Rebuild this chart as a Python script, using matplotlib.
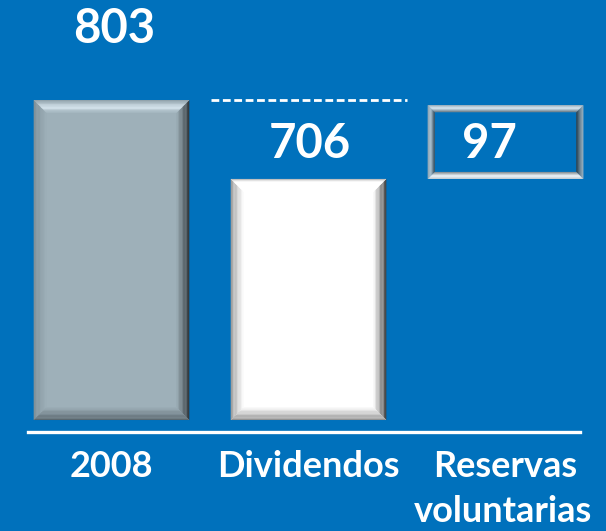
import matplotlib
matplotlib.use('Agg')
import matplotlib.pyplot as plt
from matplotlib.patches import Polygon
from matplotlib.colors import to_rgb
import numpy as np

# ---- data ----
categories = ['2008', 'Dividendos', 'Reservas\nvoluntarias']
label_values = [803, 706, 97]
bar_bottoms = [0, 0, 605]     # drawn extents
bar_tops = [803, 605, 790]
reference_level = 803

BG = '#0071BC'
plt.rcParams['font.family'] = ['Lato', 'DejaVu Sans']

fig = plt.figure(figsize=(6.06, 5.31), dpi=100, facecolor=BG)
ax = fig.add_axes([0, 0, 1, 1])
ax.set_facecolor(BG)
XL, XR, YB, YT = -0.566, 2.510, -278.5, 1054
ax.set_xlim(XL, XR)
ax.set_ylim(YB, YT)
ax.axis('off')

PX_X = 1.0 / (606 / (XR - XL))   # data units per pixel (x)
PX_Y = 1.0 / (531 / (YT - YB))   # data units per pixel (y)

x = np.arange(len(categories))
heights = [t - b for t, b in zip(bar_tops, bar_bottoms)]
fills = ['#9EB0B9', '#FFFFFF', BG]
bars = ax.bar(x, heights, bottom=bar_bottoms, width=0.79, color=fills,
              edgecolor='none', zorder=2)


def interp(stops, t):
    for (p0, c0), (p1, c1) in zip(stops[:-1], stops[1:]):
        if p0 <= t <= p1:
            f = 0 if p1 == p0 else (t - p0) / (p1 - p0)
            a, b = np.array(to_rgb(c0)), np.array(to_rgb(c1))
            return tuple(a + (b - a) * f)
    return to_rgb(stops[-1][1])


def bevel(patch, depth_px, sides, n=10):
    x0 = patch.get_x(); x1 = x0 + patch.get_width()
    y0 = patch.get_y(); y1 = y0 + patch.get_height()
    dx, dy = depth_px * PX_X, depth_px * PX_Y
    for k in range(n):
        t0, t1 = k / n, (k + 1) / n
        a0x, a0y, a1x, a1y = dx * t0, dy * t0, dx * t1, dy * t1
        polys = {
            'top': [(x0 + a0x, y1 - a0y), (x1 - a0x, y1 - a0y), (x1 - a1x, y1 - a1y), (x0 + a1x, y1 - a1y)],
            'bottom': [(x0 + a0x, y0 + a0y), (x1 - a0x, y0 + a0y), (x1 - a1x, y0 + a1y), (x0 + a1x, y0 + a1y)],
            'left': [(x0 + a0x, y0 + a0y), (x0 + a0x, y1 - a0y), (x0 + a1x, y1 - a1y), (x0 + a1x, y0 + a1y)],
            'right': [(x1 - a0x, y0 + a0y), (x1 - a0x, y1 - a0y), (x1 - a1x, y1 - a1y), (x1 - a1x, y0 + a1y)],
        }
        tm = (t0 + t1) / 2
        for side in ['left', 'right', 'bottom', 'top']:
            if side in sides:
                ax.add_patch(Polygon(polys[side], closed=True, facecolor=interp(sides[side], tm),
                                     edgecolor='none', zorder=3))


base = fills[0]
bevel(bars[0], 13, {
    'top': [(0, '#8A9CA5'), (0.55, '#DDEBF4'), (1, base)],
    'left': [(0, '#7E8F97'), (1, base)],
    'right': [(0, '#2C3236'), (1, base)],
    'bottom': [(0, '#56636A'), (1, base)],
})
bevel(bars[1], 13, {
    'top': [(0, '#B0B0B0'), (0.25, '#FFFFFF'), (1, '#FFFFFF')],
    'left': [(0, '#9A9A9A'), (1, '#FFFFFF')],
    'right': [(0, '#3A3A3A'), (1, '#FFFFFF')],
    'bottom': [(0, '#8C8C8C'), (1, '#FFFFFF')],
})
bevel(bars[2], 7, {
    'top': [(0, '#B8B8B8'), (0.45, '#FFFFFF'), (1, '#7A7A7A')],
    'left': [(0, '#B0B0B0'), (0.45, '#D8D8D8'), (1, '#3E3E3E')],
    'right': [(0, '#C8C8C8'), (0.45, '#909090'), (1, '#303030')],
    'bottom': [(0, '#D0D0D0'), (0.45, '#FFFFFF'), (1, '#8A8A8A')],
}, n=7)

# dashed reference line
ax.plot([x[0] + 0.505, x[1] + 0.5], [reference_level, reference_level],
        color='white', lw=2, dashes=(2.8, 1.3), zorder=2, solid_capstyle='butt')

# baseline
ax.axhline(-30, xmin=28 / 606, xmax=580 / 606, color='white', lw=2.4, zorder=2)

# value labels
label_x = [x[0] + 0.013, x[1] + 0.008, x[2] - 0.084]
label_y = [946, 657, 657]
for lx, ly, v in zip(label_x, label_y, label_values):
    ax.text(lx, ly, f'{v}', ha='center', va='baseline', color='white',
            fontsize=34, fontweight='bold', zorder=5)

# category labels
for xi, cat in zip(x, categories):
    lines = cat.split('\n')
    for j, line in enumerate(lines):
        ax.text(xi - 0.015 * j, -143 - j * 114, line, ha='center', va='baseline', color='white',
                fontsize=26, fontweight='bold', zorder=5)

fig.savefig('out.png', dpi=100, facecolor=BG)
